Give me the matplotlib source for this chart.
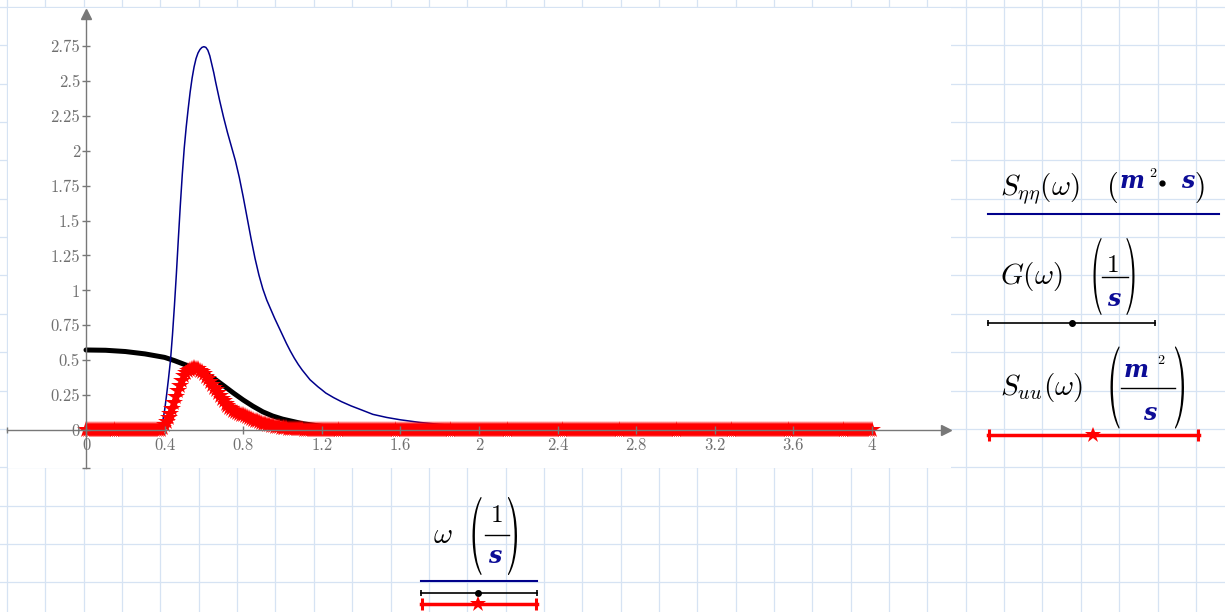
import numpy as np
import matplotlib.pyplot as plt
import matplotlib.transforms as mtransforms
from matplotlib.textpath import TextPath
from matplotlib.patches import PathPatch, Rectangle
from matplotlib.font_manager import FontProperties

plt.rcParams['mathtext.fontset'] = 'cm'

# wave spectrum S_eta_eta(omega)  (m^2*s)
omega_s = [0.0, 0.36, 0.37, 0.38, 0.39, 0.40, 0.41, 0.42, 0.43, 0.44, 0.45, 0.46,
           0.47, 0.48, 0.49, 0.50, 0.51, 0.52, 0.53, 0.54, 0.55, 0.56, 0.57, 0.58,
           0.59, 0.60, 0.61, 0.62, 0.63, 0.64, 0.65, 0.66, 0.68, 0.70, 0.72, 0.74,
           0.76, 0.78, 0.80, 0.82, 0.84, 0.86, 0.88, 0.90, 0.92, 0.94, 0.96, 0.98,
           1.00, 1.02, 1.04, 1.06, 1.08, 1.10, 1.12, 1.14, 1.16, 1.18, 1.20, 1.22,
           1.26, 1.30, 1.35, 1.40, 1.46, 1.53, 1.60, 1.70, 1.80, 1.90, 2.00, 2.20,
           2.40, 2.70, 3.00, 3.50, 4.00]
s_eta = [0.0, 0.0, 0.0, 0.01, 0.06, 0.14, 0.25, 0.37, 0.50, 0.68, 0.89, 1.12,
         1.37, 1.61, 1.83, 2.02, 2.17, 2.30, 2.42, 2.52, 2.60, 2.66, 2.70, 2.725,
         2.74, 2.745, 2.74, 2.72, 2.68, 2.62, 2.56, 2.49, 2.36, 2.24, 2.13, 2.03,
         1.93, 1.81, 1.67, 1.52, 1.37, 1.23, 1.11, 1.01, 0.93, 0.865, 0.80, 0.74,
         0.68, 0.62, 0.565, 0.515, 0.47, 0.43, 0.395, 0.36, 0.335, 0.31, 0.288, 0.265,
         0.232, 0.203, 0.172, 0.145, 0.112, 0.09, 0.073, 0.054, 0.04, 0.03, 0.023, 0.013,
         0.008, 0.004, 0.002, 0.001, 0.0005]

# transfer function G(omega)  (1/s)
omega_g = [0.0, 0.1, 0.2, 0.3, 0.4, 0.45, 0.5, 0.55, 0.6, 0.65, 0.7, 0.75,
           0.8, 0.85, 0.9, 0.95, 1.0, 1.1, 1.2, 1.3, 1.4, 1.6, 2.0, 4.0]
g_vals = [0.573, 0.571, 0.562, 0.545, 0.52, 0.497, 0.47, 0.442, 0.41, 0.37, 0.318, 0.265,
          0.215, 0.17, 0.13, 0.10, 0.078, 0.046, 0.026, 0.013, 0.006, 0.001, 0.0, 0.0]

# response spectrum S_uu(omega)  (m^2/s), every 0.01 from 0 to 4
omega_u = np.linspace(0, 4, 401)
s_uu = ([0.0] * 37 +
        [0.000, 0.003, 0.014, 0.033, 0.058, 0.085, 0.112, 0.152, 0.193, 0.233,
         0.276, 0.315, 0.352, 0.385, 0.405, 0.420, 0.432, 0.439, 0.442, 0.440,
         0.434, 0.424, 0.412, 0.399, 0.383, 0.365, 0.345, 0.325, 0.304, 0.283,
         0.262, 0.242, 0.223, 0.205, 0.188, 0.172, 0.158, 0.147, 0.138, 0.130,
         0.123, 0.117, 0.110, 0.104, 0.097, 0.091, 0.085, 0.079, 0.073, 0.067,
         0.061, 0.056, 0.051, 0.046, 0.042, 0.038, 0.034, 0.031, 0.027, 0.024,
         0.021, 0.019, 0.017, 0.015, 0.013, 0.012, 0.010, 0.009, 0.008, 0.007,
         0.006, 0.005, 0.004, 0.004, 0.003, 0.003, 0.002, 0.002, 0.002, 0.001,
         0.001, 0.001, 0.001, 0.001] +
        [0.0] * 280)

x_ticks = [0, 0.4, 0.8, 1.2, 1.6, 2, 2.4, 2.8, 3.2, 3.6, 4]
y_ticks = [0, 0.25, 0.5, 0.75, 1, 1.25, 1.5, 1.75, 2, 2.25, 2.5, 2.75]

BLUE = '#00008b'
UNIT = '#0c0c96'
GREY = '#787878'
FS = 21

fig = plt.figure(figsize=(12.25, 6.12), dpi=100)

# worksheet background (pixel coordinates)
bg = fig.add_axes([0, 0, 1, 1])
bg.set_xlim(0, 1225)
bg.set_ylim(612, 0)
bg.axis('off')
for k in range(33):
    bg.axvline(7 + 38.35 * k, color='#d6e3f3', lw=0.9, zorder=1)
for k in range(17):
    bg.axhline(7 + 38.35 * k, color='#d6e3f3', lw=0.9, zorder=1)
bg.add_patch(Rectangle((7.6, 7.6), 943.4, 460.4, fc='white', ec='none', zorder=2))


def paren(ch, xc, yc, h, w):
    tp = TextPath((0, 0), ch, size=1, prop=FontProperties(family='cmr10'))
    e = tp.get_extents()
    tr = (mtransforms.Affine2D()
          .translate(-(e.x0 + e.x1) / 2, -(e.y0 + e.y1) / 2)
          .scale(w / e.width, -h / e.height)
          .translate(xc, yc))
    bg.add_patch(PathPatch(tp, transform=tr + bg.transData, fc='black', ec='none', zorder=5))


def unit(x, y, s):
    bg.text(x, y, s, family='DejaVu Serif', weight='bold', style='italic', color=UNIT,
            fontsize=17, ha='center', va='baseline', zorder=5)


def num(x, y, s, size=18):
    bg.text(x, y, s, family='cmr10', color='black', fontsize=size,
            ha='center', va='baseline', zorder=5)


# S_eta_eta legend
bg.text(1000, 195, r'$S_{\eta\eta}(\omega)$', fontsize=FS, va='baseline', zorder=5)
paren('(', 1113.5, 187.5, 31, 7)
unit(1132, 188.5, 'm')
num(1153, 177, '2', 10)
bg.plot([1162], [183], marker='o', ms=3.5, color='black', zorder=5)
unit(1188, 188.5, 's')
paren(')', 1200, 187.5, 31, 7)
bg.plot([988, 1219], [214, 214], color=BLUE, lw=1.5, zorder=5)

# G legend
bg.text(1000, 284, r'$G(\omega)$', fontsize=FS, va='baseline', zorder=5)
paren('(', 1097.5, 276.5, 77, 8)
num(1113, 271.5, '1')
bg.plot([1102, 1127.5], [277, 277], color='black', lw=1, zorder=5)
unit(1114, 306.5, 's')
paren(')', 1130.5, 276.5, 77, 8)
bg.plot([988, 1155], [323.3, 323.3], color='black', lw=1.2, zorder=5)
bg.plot([988, 1155], [323.3, 323.3], ls='none', marker='|', ms=5, mew=1.2, color='black', zorder=5)
bg.plot([1072], [323.3], marker='o', ms=4, color='black', zorder=5)

# S_uu legend
bg.text(1000, 395, r'$S_{uu}(\omega)$', fontsize=FS, va='baseline', zorder=5)
paren('(', 1115, 387.5, 82, 9)
unit(1136, 377, 'm')
num(1161, 364, '2', 10)
bg.plot([1121, 1175], [388.3, 388.3], color='black', lw=1, zorder=5)
unit(1150, 420, 's')
paren(')', 1179.5, 387.5, 82, 9)
bg.plot([988, 1199], [435, 435], color='red', lw=2.5, zorder=5)
bg.plot([989, 1198], [435, 435], ls='none', marker='|', ms=8, mew=2.2, color='red', zorder=5)
bg.plot([1093], [435], marker='*', ms=12, mew=0, color='red', zorder=5)

# x-axis label
bg.text(443, 543, r'$\omega$', fontsize=FS, ha='center', va='baseline', zorder=5)
paren('(', 477, 536, 78, 9)
num(496.7, 522.5, '1')
bg.plot([485, 509], [535, 535], color='black', lw=1, zorder=5)
unit(495, 563, 's')
paren(')', 512.5, 536, 78, 9)
bg.plot([421, 537], [581, 581], color=BLUE, lw=1.5, zorder=5)
bg.plot([421, 537], [593.3, 593.3], color='black', lw=1.2, zorder=5)
bg.plot([421, 537], [593.3, 593.3], ls='none', marker='|', ms=5, mew=1.2, color='black', zorder=5)
bg.plot([478], [593.3], marker='o', ms=4, color='black', zorder=5)
bg.plot([421, 537], [604, 604], color='red', lw=2.5, zorder=5)
bg.plot([422, 536], [604, 604], ls='none', marker='|', ms=8, mew=2.2, color='red', zorder=5)
bg.plot([478], [604], marker='*', ms=12, mew=0, color='red', zorder=5)

# the plot itself
px_x = 196.5
px_y = 139.64
ax = fig.add_axes([0, 0, 1, 1])
ax.patch.set_alpha(0)
ax.set_xlim(-86 / px_x, (1225 - 86) / px_x)
ax.set_ylim(-(612 - 430) / px_y, 430 / px_y)

ax.plot(omega_g, g_vals, color='black', lw=3.6, solid_capstyle='round', zorder=2)
ax.plot(omega_s, s_eta, color=BLUE, lw=1.1, zorder=3)
ax.plot(omega_u, s_uu, color='red', lw=2, marker='*', ms=13, mew=0, zorder=4)

for s in ['top', 'right']:
    ax.spines[s].set_visible(False)
for s in ['left', 'bottom']:
    ax.spines[s].set_position(('data', 0))
    ax.spines[s].set_color(GREY)
    ax.spines[s].set_linewidth(1)
    ax.spines[s].set_zorder(6)
ax.spines['left'].set_bounds(-38 / px_y, (430 - 14) / px_y)
ax.spines['bottom'].set_bounds(-79 / px_x, (944 - 86) / px_x)
ax.xaxis.set_zorder(6)
ax.yaxis.set_zorder(6)

ax.set_xticks(x_ticks, labels=[f'{t:g}' for t in x_ticks])
ax.set_yticks(y_ticks, labels=[f'{t:g}' for t in y_ticks])
for lab in ax.get_xticklabels() + ax.get_yticklabels():
    lab.set_fontfamily('cmr10')
    lab.set_fontsize(12)
ax.tick_params(direction='inout', length=5.5, width=1, color=GREY, labelcolor='#707070')
ax.tick_params(axis='x', pad=3)
ax.tick_params(axis='y', pad=1.5)

# arrow heads and end caps
ax.plot([0], [(430 - 13.5) / px_y], marker='^', ms=6.5, color=GREY, clip_on=False, zorder=6)
ax.plot([(945.5 - 86) / px_x], [0], marker='>', ms=6.5, color=GREY, clip_on=False, zorder=6)
ax.plot([-79 / px_x], [0], marker='|', ms=5, mew=1, color=GREY, zorder=6)
ax.plot([0], [-38 / px_y], marker='_', ms=6, mew=1, color=GREY, zorder=6)

fig.savefig('out.png', dpi=100)
